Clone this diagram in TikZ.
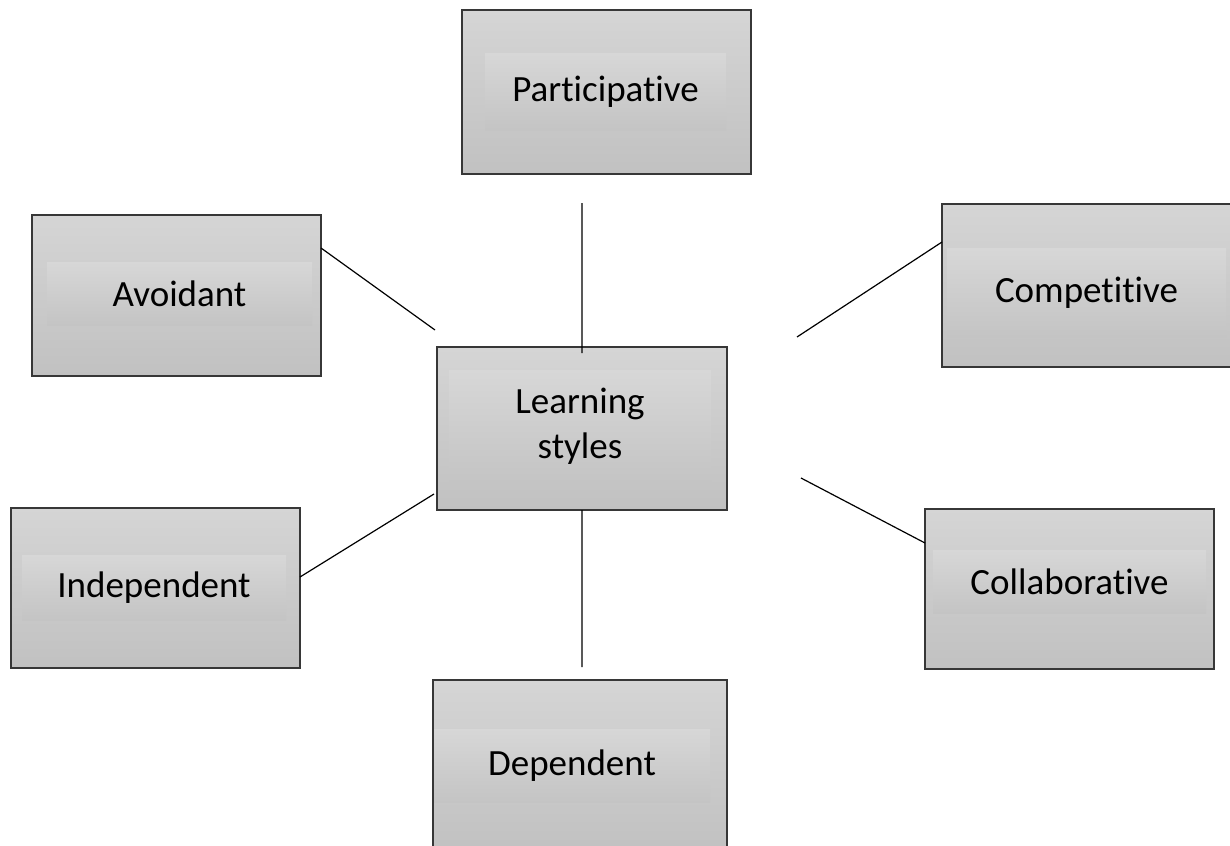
\documentclass[tikz,border=0pt]{standalone}
\usepackage{fontspec}
\setmainfont{Carlito}[Ligatures={NoCommon}]
\usetikzlibrary{calc}
\definecolor{boxtop}{RGB}{213,213,213}
\definecolor{boxbot}{RGB}{193,193,193}
\definecolor{bandtop}{RGB}{215,215,215}
\definecolor{bandbot}{RGB}{196,196,196}
\definecolor{edgecol}{RGB}{55,55,55}
\begin{document}
\begin{tikzpicture}[x=1bp,y=-1bp,
  box/.style={draw=edgecol, line width=1.5bp, top color=boxtop, bottom color=boxbot,
    inner sep=0pt, outer sep=0pt, anchor=north west},
  band/.style={top color=bandtop, bottom color=bandbot, inner sep=0pt, outer sep=0pt,
    anchor=north west, font=\fontsize{37bp}{45bp}\selectfont, align=center, text=black},
  link/.style={draw=black, line width=1.2bp}]
\useasboundingbox (0,0) rectangle (1230,846);
\clip (0,0) rectangle (1230,846);

% boxes
\node[box, minimum width=289bp, minimum height=164bp] (part)  at (462,10)  {};
\node[box, minimum width=290bp, minimum height=163bp] (learn) at (437,347) {};
\node[box, minimum width=289bp, minimum height=161bp] (avoid) at (32,215)  {};
\node[box, minimum width=289bp, minimum height=163bp] (comp)  at (942,204) {};
\node[box, minimum width=289bp, minimum height=160bp] (indep) at (11,508)  {};
\node[box, minimum width=289bp, minimum height=160bp] (coll)  at (925,509) {};
\node[box, minimum width=294bp, minimum height=172bp] (dep)   at (433,680) {};

% text bands
\node[band, minimum width=241bp, minimum height=77bp]  (partT)  at (485,53)  {Participative};
\node[band, minimum width=262bp, minimum height=112bp] (learnT) at (449,370) {Learning\\styles};
\node[band, minimum width=265bp, minimum height=63bp]  (avoidT) at (47,262)  {Avoidant};
\node[band, minimum width=279bp, minimum height=89bp]  (compT)  at (947,248) {Competitive};
\node[band, minimum width=264bp, minimum height=65bp]  (indepT) at (22,555)  {Independent};
\node[band, minimum width=273bp, minimum height=63bp]  (collT)  at (933,550) {Collaborative};
\node[band, minimum width=276bp, minimum height=73bp]  (depT)   at (434,729) {Dependent};

% free connector ends
\coordinate (pfree) at (582,203);
\coordinate (afree) at (435,330);
\coordinate (cfree) at (797,337);
\coordinate (ifree) at (434,494);
\coordinate (kfree) at (801,478);
\coordinate (dfree) at (582,667);

% connectors
\draw[link] (pfree) -- ($(learn.north)+(0,6)$);
\draw[link] ($(avoid.north east)+(0,33)$) -- (afree);
\draw[link] ($(comp.north west)+(0,38)$) -- (cfree);
\draw[link] ($(indep.north east)+(0,69)$) -- (ifree);
\draw[link] ($(coll.north west)+(0,34)$) -- (kfree);
\draw[link] (learn.south) -- (dfree);
\end{tikzpicture}
\end{document}
